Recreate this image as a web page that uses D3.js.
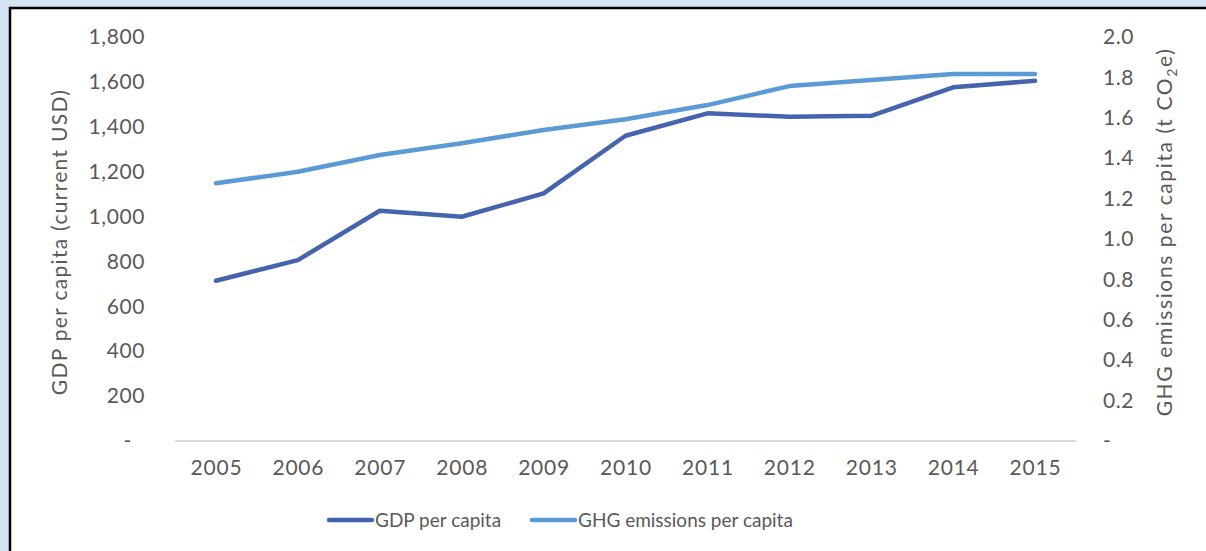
<!DOCTYPE html>
<html>
<head>
<meta charset="utf-8">
<script src="https://cdn.jsdelivr.net/npm/d3@7"></script>
<style>
  body { margin: 0; background: #d5e4f5; }
  svg { display: block; }
  text { font-family: "Lato", "Open Sans", sans-serif; fill: #595959; }
</style>
</head>
<body>
<svg width="1206" height="551"></svg>
<script>
const years = ["2005", "2006", "2007", "2008", "2009", "2010", "2011", "2012", "2013", "2014", "2015"]
const gdp = [714, 806, 1026, 999, 1103, 1360, 1460, 1445, 1449, 1576, 1605]
const ghg = [1.276, 1.333, 1.416, 1.474, 1.540, 1.593, 1.663, 1.757, 1.787, 1.817, 1.817]
const gdpTicks = [0, 200, 400, 600, 800, 1000, 1200, 1400, 1600, 1800]
const ghgTicks = [0, 0.2, 0.4, 0.6, 0.8, 1.0, 1.2, 1.4, 1.6, 1.8, 2.0]

const svg = d3.select("svg")

// white panel with black border
svg.append("rect")
  .attr("x", 10).attr("y", 8)
  .attr("width", 1210).attr("height", 560)
  .attr("fill", "#fff")
  .attr("stroke", "#000").attr("stroke-width", 2.5)

const plot = {left: 175, right: 1076, top: 37, bottom: 441}

const x = d3.scalePoint()
  .domain(years)
  .range([plot.left, plot.right])
  .padding(0.5)

const yLeft = d3.scaleLinear().domain([0, 1800]).range([plot.bottom, plot.top])
const yRight = d3.scaleLinear().domain([0, 2]).range([plot.bottom, plot.top])

// baseline
svg.append("line")
  .attr("x1", plot.left).attr("x2", plot.right)
  .attr("y1", plot.bottom).attr("y2", plot.bottom)
  .attr("stroke", "#d9d9d9").attr("stroke-width", 2)

// x axis
const xAxis = svg.append("g")
  .attr("transform", `translate(0, ${plot.bottom})`)
  .call(d3.axisBottom(x).tickSize(0).tickPadding(19))
xAxis.select(".domain").remove()
xAxis.selectAll("text").attr("font-size", 21).attr("letter-spacing", 0.8)

// left axis
const leftAxis = svg.append("g")
  .attr("transform", "translate(145, 0)")
  .call(d3.axisLeft(yLeft).tickValues(gdpTicks).tickSize(0).tickPadding(0)
    .tickFormat(d => d === 0 ? "-" : d3.format(",")(d)))
leftAxis.select(".domain").remove()
leftAxis.selectAll("text")
  .attr("font-size", 21)
  .attr("letter-spacing", 0.6)
  .attr("dx", d => d === 0 ? -13 : 0)

// right axis
const rightAxis = svg.append("g")
  .attr("transform", "translate(1103, 0)")
  .call(d3.axisRight(yRight).tickValues(ghgTicks).tickSize(0).tickPadding(0)
    .tickFormat(d => d === 0 ? "-" : d3.format(".1f")(d)))
rightAxis.select(".domain").remove()
rightAxis.selectAll("text").attr("font-size", 21).attr("letter-spacing", 0.6)

svg.selectAll(".tick text").attr("fill", "#595959")
svg.selectAll("g").attr("font-family", null)

// axis titles
svg.append("text")
  .attr("transform", `translate(67, ${(plot.top + plot.bottom) / 2 + 3}) rotate(-90)`)
  .attr("text-anchor", "middle")
  .attr("font-size", 21)
  .attr("letter-spacing", 1.3)
  .text("GDP per capita (current USD)")

const rt = svg.append("text")
  .attr("transform", `translate(1172, ${(plot.top + plot.bottom) / 2 - 7}) rotate(-90)`)
  .attr("text-anchor", "middle")
  .attr("font-size", 21)
  .attr("letter-spacing", 1.6)
rt.append("tspan").text("GHG emissions per capita (t CO")
rt.append("tspan").attr("font-size", 14).attr("dy", 5).text("2")
rt.append("tspan").attr("dy", -5).text("e)")

// lines
const line = (scale) => d3.line()
  .x((d, i) => x(years[i]))
  .y(d => scale(d))

svg.append("path")
  .datum(ghg)
  .attr("d", line(yRight))
  .attr("fill", "none")
  .attr("stroke", "#5b9bd5")
  .attr("stroke-width", 4.5)
  .attr("stroke-linecap", "round")
  .attr("stroke-linejoin", "round")

svg.append("path")
  .datum(gdp)
  .attr("d", line(yLeft))
  .attr("fill", "none")
  .attr("stroke", "#4664ae")
  .attr("stroke-width", 4.5)
  .attr("stroke-linecap", "round")
  .attr("stroke-linejoin", "round")

// legend
const legendItems = [
  {name: "GDP per capita", color: "#4664ae", x: 329},
  {name: "GHG emissions per capita", color: "#5b9bd5", x: 532}
]
const lg = svg.append("g").selectAll("g")
  .data(legendItems)
  .join("g")
  .attr("transform", d => `translate(${d.x}, 520)`)
lg.append("line")
  .attr("x1", 0).attr("x2", 43)
  .attr("stroke", d => d.color)
  .attr("stroke-width", 4.5)
  .attr("stroke-linecap", "round")
lg.append("text")
  .attr("x", 46)
  .attr("dy", "0.35em")
  .attr("font-size", 19)
  .text(d => d.name)
</script>
</body>
</html>
